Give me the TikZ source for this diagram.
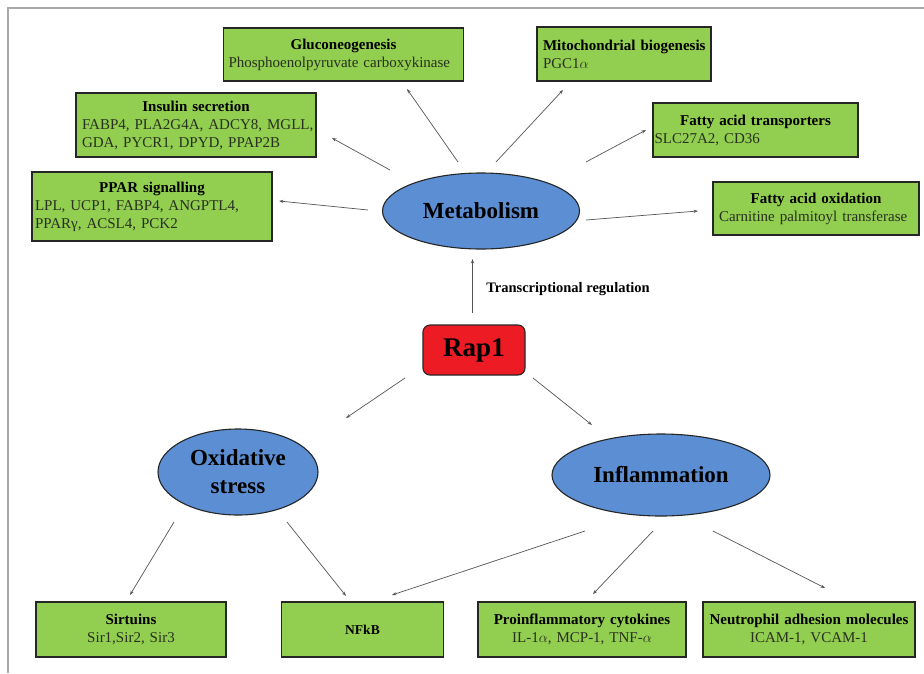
\documentclass[tikz,border=0pt]{standalone}
\usepackage{fontspec}
\setmainfont{Liberation Serif}
\usetikzlibrary{arrows.meta,shapes.geometric}
\definecolor{gfill}{RGB}{146,206,80}
\definecolor{bfill}{RGB}{91,142,210}
\definecolor{rfill}{RGB}{237,28,36}
\definecolor{bodytxt}{RGB}{40,48,32}
\definecolor{arrcol}{RGB}{85,85,85}
\definecolor{framecol}{RGB}{170,170,170}
\newcommand\bxtitle[1]{\makebox[\hsize][c]{\color{black}\bfseries #1}}
\newcommand\bxltitle[1]{\mbox{\color{black}\bfseries #1}}
\begin{document}
\begin{tikzpicture}[x=1pt,y=-1pt,
  gbox/.style={draw=black!85, fill=gfill, line width=1.3pt, inner ysep=0pt,
    align=left, font=\fontsize{15}{18}\selectfont, text=bodytxt},
  cbox/.style={gbox, align=center},
  bell/.style={ellipse, draw=black!85, fill=bfill, line width=1.1pt, inner sep=0pt,
    font=\fontsize{23}{28}\selectfont\bfseries, align=center},
  link/.style={draw=arrcol, line width=0.7pt, -{Stealth[length=4.5pt,width=3.2pt]}}]
\useasboundingbox (0,0) rectangle (924,673);
\fill[white] (0,0) rectangle (924,673);
\draw[framecol, line width=1.6pt] (8,673) -- (8,8) -- (924,8);

% metabolism targets
\node[gbox, minimum width=240pt, minimum height=53pt, inner xsep=5pt, text width=230pt] (gluco) at (343.5,54.5)
  {\bxtitle{Gluconeogenesis}\\\mbox{Phosphoenolpyruvate carboxykinase}};
\node[gbox, minimum width=174pt, minimum height=54pt, inner xsep=6pt, text width=162pt] (mito) at (624,54)
  {\bxltitle{Mitochondrial biogenesis}\\PGC1$\alpha$};
\node[gbox, minimum width=240pt, minimum height=64pt, inner xsep=6pt, text width=228pt] (insulin) at (196,125)
  {\bxtitle{Insulin secretion}\\\mbox{FABP4, PLA2G4A, ADCY8, MGLL,}\\\mbox{GDA, PYCR1, DPYD, PPAP2B}};
\node[gbox, minimum width=205pt, minimum height=54pt, inner xsep=1.5pt, text width=202pt] (fat) at (755.5,130)
  {\bxtitle{Fatty acid transporters}\\SLC27A2, CD36};
\node[gbox, minimum width=240pt, minimum height=69pt, inner xsep=3pt, text width=234pt] (ppar) at (152,206.5)
  {\bxtitle{PPAR signalling}\\\mbox{LPL, UCP1, FABP4, ANGPTL4,}\\\mbox{PPARγ, ACSL4, PCK2}};
\node[gbox, minimum width=206pt, minimum height=53pt, inner xsep=6pt, text width=194pt] (fao) at (816,208.5)
  {\bxtitle{Fatty acid oxidation}\\\mbox{Carnitine palmitoyl transferase}};

% central nodes
\node[bell, minimum width=197pt, minimum height=76pt] (metab) at (481,211) {Metabolism};
\node[draw=black!85, fill=rfill, line width=1.1pt, rounded corners=7pt, minimum width=102pt, minimum height=50pt,
  inner sep=0pt, font=\fontsize{27}{30}\selectfont\bfseries] (rap) at (474,350) {Rap1};
\node[font=\fontsize{14.5}{17}\selectfont\bfseries] (treg) at (568,289) {Transcriptional regulation};
\node[bell, minimum width=160pt, minimum height=86pt] (oxid) at (238,472) {Oxidative\\stress};
\node[bell, minimum width=218pt, minimum height=82pt] (inflam) at (661,475) {Inflammation};

% bottom boxes
\node[cbox, minimum width=190pt, minimum height=55pt, inner xsep=4pt, text width=182pt] (sirt) at (131,629.5)
  {{\color{black}\bfseries Sirtuins}\\Sir1,Sir2, Sir3};
\node[cbox, minimum width=162pt, minimum height=55pt, inner xsep=4pt, text width=154pt,
  font=\fontsize{13.5}{16}\selectfont] (nfkb) at (362.5,629.5)
  {{\color{black}\bfseries NFkB}};
\node[cbox, minimum width=208pt, minimum height=55pt, inner xsep=2pt, text width=204pt] (cyto) at (582,629.5)
  {{\color{black}\bfseries Proinflammatory cytokines}\\IL-1$\alpha$, MCP-1, TNF-$\alpha$};
\node[cbox, minimum width=212pt, minimum height=55pt, inner xsep=2pt, text width=208pt] (neut) at (809,629.5)
  {\mbox{\color{black}\bfseries Neutrophil adhesion molecules}\\ICAM-1, VCAM-1};

% connector end points
\coordinate (a1s) at (458,162);  \coordinate (a1e) at (407,89);
\coordinate (a2s) at (496,162);  \coordinate (a2e) at (563,90);
\coordinate (a3s) at (390,170);  \coordinate (a3e) at (332,138);
\coordinate (a4s) at (586,162);  \coordinate (a4e) at (646,130);
\coordinate (a5s) at (368,210);  \coordinate (a5e) at (279,201);
\coordinate (a6s) at (586,220);  \coordinate (a6e) at (698,211);
\coordinate (r0s) at (472.5,313); \coordinate (r0e) at (472.5,259);
\coordinate (r1s) at (405,378);  \coordinate (r1e) at (346,418);
\coordinate (r2s) at (533,378);  \coordinate (r2e) at (592,425);
\coordinate (o1s) at (174,522);  \coordinate (o1e) at (130,595);
\coordinate (o2s) at (287,522);  \coordinate (o2e) at (346,596);
\coordinate (i1s) at (585,531);  \coordinate (i1e) at (392,595);
\coordinate (i2s) at (653,531);  \coordinate (i2e) at (593,594);
\coordinate (i3s) at (713,531);  \coordinate (i3e) at (825,588);

\draw[link] (a1s) -- (a1e);
\draw[link] (a2s) -- (a2e);
\draw[link] (a3s) -- (a3e);
\draw[link] (a4s) -- (a4e);
\draw[link] (a5s) -- (a5e);
\draw[link] (a6s) -- (a6e);
\draw[link] (r0s) -- (r0e);
\draw[link] (r1s) -- (r1e);
\draw[link] (r2s) -- (r2e);
\draw[link] (o1s) -- (o1e);
\draw[link] (o2s) -- (o2e);
\draw[link] (i1s) -- (i1e);
\draw[link] (i2s) -- (i2e);
\draw[link] (i3s) -- (i3e);
\end{tikzpicture}
\end{document}
